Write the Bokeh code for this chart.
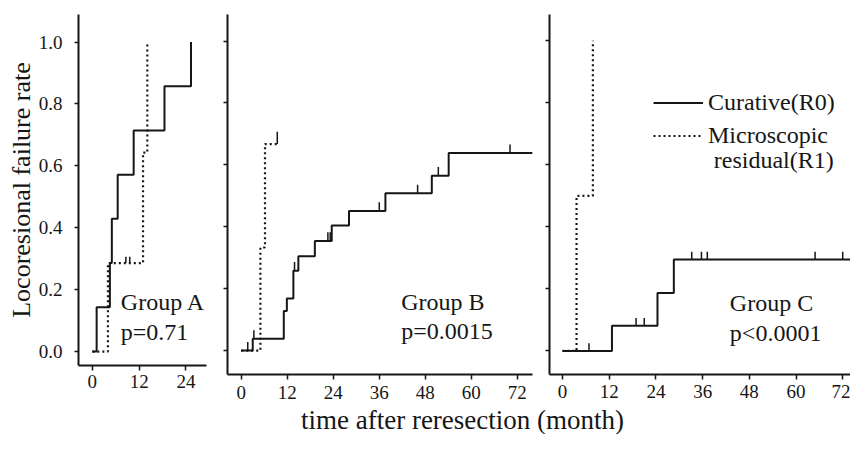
from bokeh.plotting import figure
from bokeh.models import Range1d, FixedTicker, PrintfTickFormatter, Legend, LegendItem, Label
from bokeh.layouts import row, column
from bokeh.embed import file_html
from bokeh.resources import INLINE

# ---------------- data ----------------
# Group A
a_r0_t = [0, 1.1, 4.5, 5.0, 6.5, 10.6, 18.5, 25.3]
a_r0_s = [0, 0.143, 0.286, 0.429, 0.571, 0.714, 0.857, 1.0]
a_r1_t = [0, 4.0, 13.0, 14.1]
a_r1_s = [0, 0.286, 0.643, 1.0]
a_cens_t = [8.6, 9.6]
a_cens_s = [0.286, 0.286]

# Group B
b_r0_t = [0, 3.0, 11.1, 11.9, 13.6, 14.9, 19.2, 23.6, 28.1, 37.6, 49.7, 54.1, 76.0]
b_r0_s = [0, 0.038, 0.128, 0.168, 0.258, 0.305, 0.354, 0.404, 0.451, 0.508, 0.565, 0.638, 0.638]
b_r0_cens_t = [1.7, 3.3, 13.9, 22.6, 23.2, 36.0, 46.0, 51.4, 70.1]
b_r0_cens_s = [0, 0.038, 0.258, 0.354, 0.354, 0.451, 0.508, 0.565, 0.638]
b_r1_t = [0, 5.0, 6.2, 9.4]
b_r1_s = [0, 0.333, 0.667, 0.667]
b_r1_cens_t = [9.4]
b_r1_cens_s = [0.667]

# Group C
c_r0_t = [0, 12.7, 24.4, 28.6, 74.0]
c_r0_s = [0, 0.081, 0.187, 0.295, 0.295]
c_r0_cens_t = [6.8, 18.9, 21.0, 33.2, 35.7, 37.2, 64.9, 72.0]
c_r0_cens_s = [0, 0.081, 0.081, 0.295, 0.295, 0.295, 0.295, 0.295]
c_r1_t = [0, 3.6, 7.8]
c_r1_s = [0, 0.5, 1.0]

y_ticks = [0.0, 0.2, 0.4, 0.6, 0.8, 1.0]
x_ticks_a = [0, 12, 24]
x_ticks_bc = [0, 12, 24, 36, 48, 60, 72]

group_labels = ["Group A", "Group B", "Group C"]
p_labels = ["p=0.71", "p=0.0015", "p<0.0001"]
legend_labels = ["Curative(R0)", "Microscopic", "residual(R1)"]
y_title = "Locoresional failure rate"
x_title = "time after reresection (month)"

# ---------------- style ----------------
FONT = "Liberation Serif"
INK = "#161616"
TOP = 14
BOT = 30
ROW_H = 404


def make_panel(width, height, left, right, xr, yr, xticks, ylabels, xstand):
    p = figure(width=width, height=height, x_range=Range1d(*xr), y_range=Range1d(*yr),
               toolbar_location=None, output_backend="svg", title=None,
               min_border_left=left, min_border_right=right,
               min_border_top=TOP, min_border_bottom=BOT)
    p.xgrid.visible = False
    p.ygrid.visible = False
    p.outline_line_color = None
    p.background_fill_color = "white"
    p.border_fill_color = "white"
    for ax in (p.xaxis[0], p.yaxis[0]):
        ax.axis_line_width = 2
        ax.axis_line_color = INK
        ax.major_tick_line_color = INK
        ax.major_tick_line_width = 1.5
        ax.major_tick_in = 0
        ax.minor_tick_line_color = None
        ax.minor_tick_out = 0
        ax.major_label_text_font = FONT
        ax.major_label_text_color = INK
        ax.major_label_text_font_size = "19px"
    xa, ya = p.xaxis[0], p.yaxis[0]
    xa.axis_label = None
    xa.ticker = FixedTicker(ticks=xticks)
    xa.major_tick_out = 5
    xa.major_label_standoff = xstand
    xa.major_label_text_line_height = 0.6
    if ylabels:
        ya.ticker = FixedTicker(ticks=y_ticks)
        ya.formatter = PrintfTickFormatter(format="%.1f")
        ya.major_tick_out = 4
        ya.major_label_standoff = 12
        ya.axis_label = y_title
        ya.axis_label_text_font = FONT
        ya.axis_label_text_font_style = "normal"
        ya.axis_label_text_font_size = "26px"
        ya.axis_label_text_color = INK
        ya.axis_label_standoff = 0
    else:
        # tick marks only, no labels (as in the reference)
        ya.axis_label = None
        ya.ticker = FixedTicker(ticks=[], minor_ticks=y_ticks)
        ya.minor_tick_line_color = INK
        ya.minor_tick_line_width = 1.5
        ya.minor_tick_in = 0
        ya.minor_tick_out = 4
    return p


def curve(p, t, s, dotted):
    if dotted:
        return p.step(t, s, mode="after", line_color=INK, line_width=2.2, line_dash="2 3")
    return p.step(t, s, mode="after", line_color=INK, line_width=2)


def censor(p, t, s, h):
    p.segment(x0=t, y0=s, x1=t, y1=[v + h for v in s], line_color=INK, line_width=1.5)


def annotate(p, x, y1, y2, g, pv):
    p.add_layout(Label(x=x, y=y1, text=g, text_font=FONT, text_font_size="24px",
                       text_color=INK, text_baseline="middle", text_align="left"))
    p.add_layout(Label(x=x, y=y2, text=pv, text_font=FONT, text_font_size="24px",
                       text_color=INK, text_baseline="middle", text_align="left"))


# Panel A (shorter canvas: its axis sits higher, as in the reference)
pa = make_panel(218, 395, 78, 12, (-3.55, 29.28), (-0.045, 1.089), x_ticks_a, True, 4)
curve(pa, a_r0_t, a_r0_s, False)
curve(pa, a_r1_t, a_r1_s, True)
censor(pa, a_cens_t, a_cens_s, 0.02)
annotate(pa, 7.3, 0.159, 0.062, group_labels[0], p_labels[0])

# Panel B
pb = make_panel(324, ROW_H, 9, 10, (-3.58, 75.96), (-0.0772, 1.0856), x_ticks_bc, False, 6)
curve(pb, b_r0_t, b_r0_s, False)
curve(pb, b_r1_t, b_r1_s, True)
censor(pb, b_r0_cens_t, b_r0_cens_s, 0.028)
censor(pb, b_r1_cens_t, b_r1_cens_s, 0.04)
annotate(pb, 41.7, 0.156, 0.062, group_labels[1], p_labels[1])

# Panel C
pc = make_panel(308, ROW_H, 7, 0, (-3.35, 74.0), (-0.076, 1.0845), x_ticks_bc, False, 5)
r0c = curve(pc, c_r0_t, c_r0_s, False)
r1c = curve(pc, c_r1_t, c_r1_s, True)
censor(pc, c_r0_cens_t, c_r0_cens_s, 0.025)
annotate(pc, 43.0, 0.156, 0.057, group_labels[2], p_labels[2])

leg = Legend(items=[LegendItem(label=legend_labels[0], renderers=[r0c]),
                    LegendItem(label=legend_labels[1], renderers=[r1c])],
             location=(104, 222), orientation="vertical",
             glyph_width=50, glyph_height=33, label_height=33, label_standoff=5,
             spacing=0, padding=0, margin=0,
             border_line_color=None, background_fill_alpha=0,
             label_text_font=FONT, label_text_font_size="24px", label_text_color=INK)
pc.add_layout(leg)
pc.add_layout(Label(x=69.7, y=0.614, text=legend_labels[2], text_font=FONT,
                    text_font_size="24px", text_color=INK,
                    text_baseline="middle", text_align="right"))

# x-axis title strip
STRIP_H = 30
lab = figure(width=850, height=STRIP_H, x_range=Range1d(0, 850), y_range=Range1d(0, STRIP_H),
             toolbar_location=None, output_backend="svg", min_border=0, title=None,
             x_axis_location=None, y_axis_location=None)
lab.xgrid.visible = False
lab.ygrid.visible = False
lab.outline_line_color = None
lab.add_layout(Label(x=462, y=STRIP_H / 2, text=x_title, text_font=FONT, text_font_size="27px",
                     text_color=INK, text_align="center", text_baseline="middle"))

layout = column(row(pa, pb, pc), lab)
open("out.html", "w").write(file_html(layout, INLINE))
